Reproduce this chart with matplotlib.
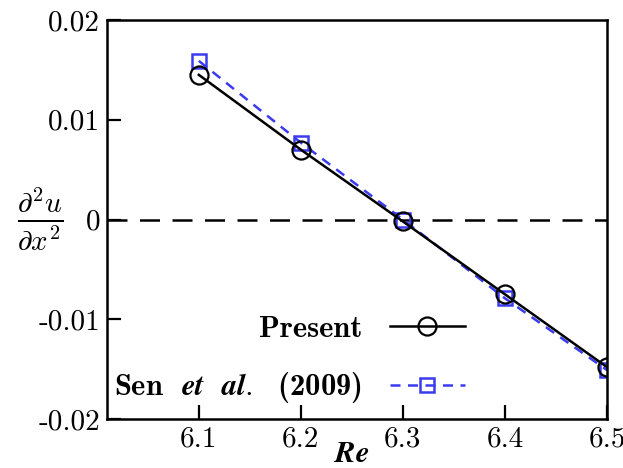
import matplotlib
matplotlib.use("Agg")
import matplotlib.pyplot as plt

plt.rcParams["font.family"] = ["cmr10", "DejaVu Serif"]
plt.rcParams["mathtext.fontset"] = "cm"
plt.rcParams["axes.formatter.use_mathtext"] = True

re_vals = [6.1, 6.2, 6.3, 6.4, 6.5]
present = [0.0145, 0.0070, -0.0002, -0.0075, -0.0148]
sen = [0.0159, 0.0077, 0.0000, -0.0079, -0.0151]

x_ticks = [6.1, 6.2, 6.3, 6.4, 6.5]
y_ticks = [-0.02, -0.01, 0.0, 0.01, 0.02]
y_labels = ["-0.02", "-0.01", "0", "0.01", "0.02"]

fig = plt.figure(figsize=(6.23, 4.68), dpi=100)
ax = fig.add_axes([107 / 623, 1 - 419 / 468, 500 / 623, 399 / 468])

ax.axhline(0, color="black", linestyle=(0, (8, 5)), linewidth=1.8, zorder=1)
ax.plot(re_vals, present, color="black", linewidth=1.8, marker="o",
        markersize=13, markerfacecolor="none", markeredgecolor="black",
        markeredgewidth=1.6, label="Present", zorder=3)
ax.plot(re_vals, sen, color="#3a3af0", linewidth=1.8, linestyle=(0, (4, 3)),
        marker="s", markersize=10, markerfacecolor="none",
        markeredgecolor="#3a3af0", markeredgewidth=1.8,
        label=r"Sen $\ \boldsymbol{et\ \ al.}\ $ (2009)", zorder=2)

ax.set_xlim(6.01, 6.5)
ax.set_ylim(-0.02, 0.02)
ax.set_xticks(x_ticks)
ax.set_xticklabels([f"{v:.1f}" for v in x_ticks])
ax.set_yticks(y_ticks)
ax.set_yticklabels(y_labels)
ax.tick_params(direction="in", length=10, width=1.6, labelsize=21,
               top=False, right=False, pad=5)
for sp in ax.spines.values():
    sp.set_linewidth(1.8)

ax.set_xlabel(r"$\boldsymbol{Re}$", fontsize=22)
ax.xaxis.set_label_coords(0.49, -0.055)
ax.set_ylabel(r"$\frac{\partial^{\mathbf{2}} u}{\partial x^{\mathbf{2}}}$",
              fontsize=30, rotation=0, va="center")
ax.yaxis.set_label_coords(-0.134, 0.5)

ax.legend(loc="lower right", bbox_to_anchor=(0.77, -0.035), frameon=False,
          markerfirst=False, prop={"family": "cmb10", "size": 22},
          handlelength=2.45, labelspacing=0.9, handletextpad=0.9)

fig.savefig("out.png", dpi=100)
